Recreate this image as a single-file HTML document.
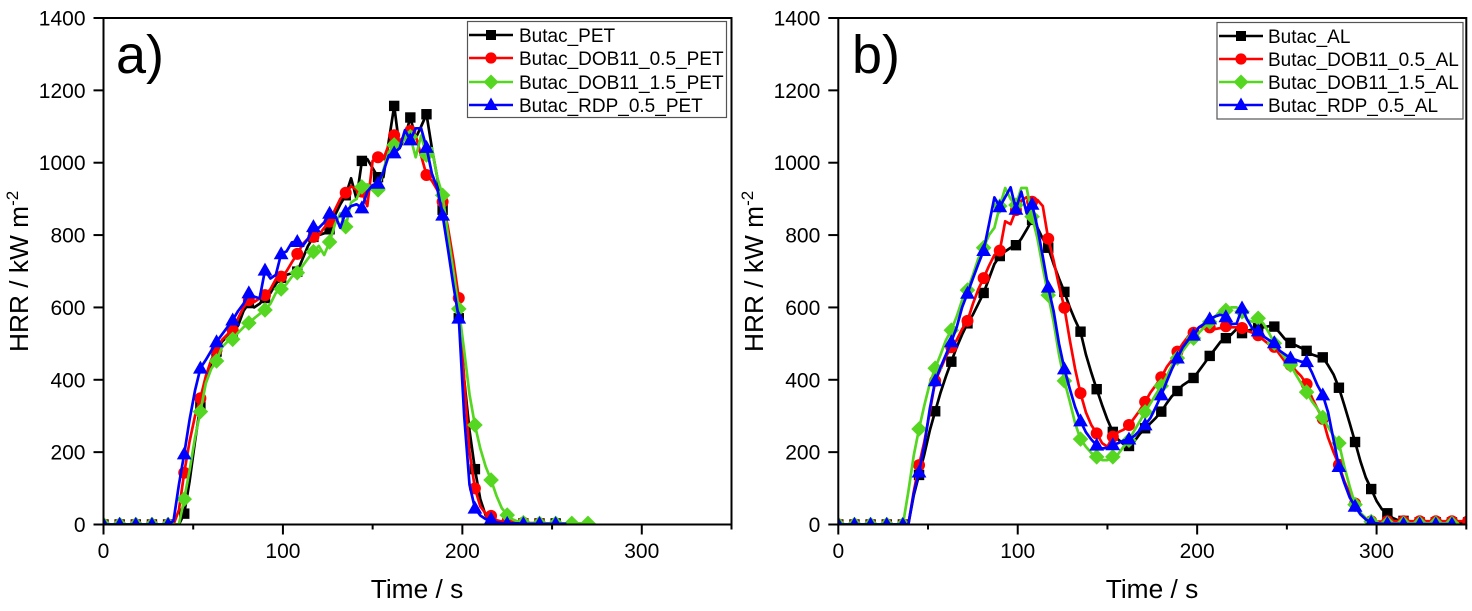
<!DOCTYPE html>
<html lang="en">
<head>
<meta charset="utf-8">
<title>HRR curves</title>
<style>
html,body{margin:0;padding:0;background:#fff;width:1472px;height:611px;overflow:hidden}
svg{display:block;filter:blur(0.35px)}
text{font-family:"Liberation Sans",Arial,sans-serif;fill:#000}
.tick{font-size:21px}
.title{font-size:26.3px}
.panel{font-size:54px}
.leg{font-size:19px}
</style>
</head>
<body>
<svg id="figure" width="1472" height="611" viewBox="0 0 1472 611" xmlns="http://www.w3.org/2000/svg">
  <defs>
    <clipPath id="clip-a"><rect x="103.5" y="18" width="627.5" height="506.5"/></clipPath>
    <clipPath id="clip-b"><rect x="838.3" y="18" width="628" height="506.5"/></clipPath>
  </defs>
  <g id="panel-a"></g>
  <g id="panel-b"></g>

  <text class="panel" x="116" y="73">a)</text>
  <text class="title" x="417" y="598" text-anchor="middle">Time / s</text>
  <text class="title" transform="translate(28,352) rotate(-90)">HRR / kW m<tspan font-size="17" dy="-10">-2</tspan></text>

  <text class="panel" x="852" y="73">b)</text>
  <text class="title" x="1152" y="598" text-anchor="middle">Time / s</text>
  <text class="title" transform="translate(763,352) rotate(-90)">HRR / kW m<tspan font-size="17" dy="-10">-2</tspan></text>

  <g>
    <rect x="467.5" y="21.5" width="259" height="96" fill="#fff" stroke="#555" stroke-width="1.2"/>
    <g>
      <line x1="469" x2="513" y1="35" y2="35" stroke="#000" stroke-width="2.5"/>
      <rect x="486" y="30" width="10" height="10" fill="#000"/>
      <text class="leg" x="519" y="42">Butac_PET</text>
    </g>
    <g>
      <line x1="469" x2="513" y1="58" y2="58" stroke="#ff0000" stroke-width="2.5"/>
      <circle cx="491" cy="58" r="5.6" fill="#ff0000"/>
      <text class="leg" x="519" y="65">Butac_DOB11_0.5_PET</text>
    </g>
    <g>
      <line x1="469" x2="513" y1="82" y2="82" stroke="#55d620" stroke-width="2.5"/>
      <polygon points="491,74.5 498.5,82 491,89.5 483.5,82" fill="#55d620"/>
      <text class="leg" x="519" y="89">Butac_DOB11_1.5_PET</text>
    </g>
    <g>
      <line x1="469" x2="513" y1="105" y2="105" stroke="#0000ff" stroke-width="2.5"/>
      <polygon points="491,97.5 498,110 484,110" fill="#0000ff"/>
      <text class="leg" x="519" y="112">Butac_RDP_0.5_PET</text>
    </g>
  </g>

  <g>
    <rect x="1217" y="22.5" width="246" height="96.5" fill="#fff" stroke="#555" stroke-width="1.2"/>
    <g>
      <line x1="1219" x2="1263" y1="36" y2="36" stroke="#000" stroke-width="2.5"/>
      <rect x="1236" y="31" width="10" height="10" fill="#000"/>
      <text class="leg" x="1268" y="43">Butac_AL</text>
    </g>
    <g>
      <line x1="1219" x2="1263" y1="59" y2="59" stroke="#ff0000" stroke-width="2.5"/>
      <circle cx="1241" cy="59" r="5.6" fill="#ff0000"/>
      <text class="leg" x="1268" y="66">Butac_DOB11_0.5_AL</text>
    </g>
    <g>
      <line x1="1219" x2="1263" y1="82" y2="82" stroke="#55d620" stroke-width="2.5"/>
      <polygon points="1241,74.5 1248.5,82 1241,89.5 1233.5,82" fill="#55d620"/>
      <text class="leg" x="1268" y="89">Butac_DOB11_1.5_AL</text>
    </g>
    <g>
      <line x1="1219" x2="1263" y1="105" y2="105" stroke="#0000ff" stroke-width="2.5"/>
      <polygon points="1241,97.5 1248,110 1234,110" fill="#0000ff"/>
      <text class="leg" x="1268" y="112">Butac_RDP_0.5_AL</text>
    </g>
  </g>
</svg>

<script>
// Values sampled every 3 s from t = 0; each row below holds 30 s of samples.
const sampleStepSeconds = 3;
const samplesPerMarker = 3;

const yTickValues = [0, 200, 400, 600, 800, 1000, 1200, 1400];
const xMajorTickValues = [0, 100, 200, 300];
const xMinorTickValues = [50, 150, 250, 350];

const butacPet = [
  0,0,0,0,0,0,0,0,0,0,
  0,0,0,0,0,30,120,230,330,400,
  445,478,505,520,530,550,590,612,600,610,
  626,640,665,682,690,695,699,735,770,795,
  800,805,816,855,885,910,957,900,1005,1010,
  985,960,960,1060,1157,1040,1070,1125,1068,1100,
  1134,1040,960,870,790,690,570,400,260,153,
  70,25,10,6,4,3,3,3,3,3,
  3,3,3,3,3
];
const butacDob05Pet = [
  0,0,0,0,0,0,0,0,0,0,
  0,0,0,0,40,143,230,300,349,410,
  455,482,510,525,537,570,600,620,615,625,
  634,650,678,685,700,725,748,775,790,795,
  800,820,837,870,900,917,935,925,920,880,
  1005,1015,1010,1050,1076,1060,1075,1088,1075,1020,
  966,950,925,892,820,730,626,400,200,100,
  50,30,24,12,8,7,6,5,5,4,
  4,3,3,3
];
const butacDob15Pet = [
  0,0,0,0,0,0,0,0,0,0,
  0,0,0,0,0,70,150,240,312,390,
  430,452,490,505,512,530,545,557,570,582,
  593,610,640,651,665,685,696,715,735,754,
  770,745,781,830,860,823,890,900,933,940,
  930,925,980,1030,1049,1050,1065,1072,1015,1075,
  1021,1040,960,910,800,700,596,480,360,275,
  210,160,123,80,45,26,14,8,5,4,
  3,3,3,3,3,3,3,3,3,3,
  3
];
const butacRdpPet = [
  0,0,0,0,0,0,0,0,0,0,
  0,0,0,10,110,195,290,370,432,455,
  480,505,525,545,565,590,610,640,630,625,
  703,680,690,748,755,780,782,770,790,823,
  820,835,860,855,820,864,880,885,875,920,
  938,943,975,1020,1027,1040,1090,1063,1095,1095,
  1042,970,930,855,760,660,570,300,110,45,
  25,15,15,6,4,3,3,3,2,2,
  2,2,2,2,2,2,2
];

const butacAl = [
  0,0,0,0,0,0,0,0,0,0,
  0,0,0,0,80,137,195,260,313,365,
  410,450,490,525,556,580,610,640,680,720,
  742,755,765,772,790,815,842,820,790,765,
  720,680,643,600,565,533,470,420,374,330,
  290,256,235,222,217,230,250,266,280,295,
  312,335,355,369,385,395,405,425,445,466,
  485,505,515,525,540,529,535,540,543,545,
  548,547,530,512,502,495,488,480,470,465,
  462,440,415,378,330,280,228,175,130,98,
  65,42,31,18,12,10,8,7,6,6,
  6,6,6,6,6,6,6,6
];
const butacDob05Al = [
  0,0,0,0,0,0,0,0,0,0,
  0,0,0,0,90,164,230,310,397,430,
  465,490,510,540,563,610,650,681,715,745,
  757,838,830,869,895,905,892,897,880,790,
  730,660,599,510,430,363,310,275,252,225,
  215,243,255,262,275,295,315,339,365,385,
  407,435,455,478,500,520,530,545,548,545,
  540,543,548,545,545,543,535,530,523,510,
  498,491,470,450,441,425,410,388,350,320,
  292,240,200,165,120,85,58,32,16,9,
  8,8,9,9,9,9,9,9,9,9,
  9,9,9,9,9,9,9,9
];
const butacDob15Al = [
  0,0,0,0,0,0,0,0,0,0,
  0,0,0,90,190,264,330,390,432,470,
  510,537,575,620,648,690,735,765,800,820,
  880,930,900,883,930,930,851,790,710,634,
  560,470,397,340,280,236,215,198,187,178,
  178,187,195,215,233,260,285,311,335,360,
  383,410,440,460,480,500,515,530,545,560,
  575,590,592,600,600,588,565,560,570,555,
  530,501,480,460,441,415,390,366,340,320,
  296,270,245,225,160,105,55,32,18,8,
  4,3,3,3,3,3,3,3,3,3,
  3,3,3,3,3
];
const butacRdpAl = [
  0,0,0,0,0,0,0,0,0,0,
  0,0,0,0,85,145,220,320,397,435,
  470,505,545,600,639,680,720,757,830,904,
  878,905,932,871,920,860,885,820,740,656,
  590,500,430,375,325,286,255,235,219,210,
  212,220,225,232,236,245,260,275,295,325,
  358,395,430,460,490,510,523,545,555,568,
  575,580,574,554,555,598,565,540,535,520,
  510,502,480,470,460,455,450,450,420,385,
  358,310,235,160,115,75,50,28,14,6,
  3,2,2,2,2,1,1,1,1,1,
  1,1,1,1,1
];

const NS = 'http://www.w3.org/2000/svg';

function make(tag, parent) {
  const el = document.createElementNS(NS, tag);
  parent.appendChild(el);
  return el;
}

function drawMarker(shape, cx, cy, color, parent) {
  let el;
  if (shape === 'square') {
    el = make('rect', parent);
    el.setAttribute('x', cx - 5.2);
    el.setAttribute('y', cy - 5.2);
    el.setAttribute('width', 10.4);
    el.setAttribute('height', 10.4);
  } else if (shape === 'circle') {
    el = make('circle', parent);
    el.setAttribute('cx', cx);
    el.setAttribute('cy', cy);
    el.setAttribute('r', 6);
  } else if (shape === 'diamond') {
    el = make('polygon', parent);
    el.setAttribute('points', [cx, cy - 7.8, cx + 7.8, cy, cx, cy + 7.8, cx - 7.8, cy].join(' '));
  } else {
    el = make('polygon', parent);
    el.setAttribute('points', [cx, cy - 7.6, cx + 7.4, cy + 5.4, cx - 7.4, cy + 5.4].join(' '));
  }
  el.setAttribute('fill', color);
  
  
}

function drawSeries(series, xScale, yScale, parent) {
  const group = make('g', parent);
  
  
  const line = make('polyline', group);
  line.setAttribute('points', series.values.map(function (v, i) {
    return xScale(i * sampleStepSeconds).toFixed(1) + ',' + yScale(v).toFixed(1);
  }).join(' '));
  line.setAttribute('fill', 'none');
  line.setAttribute('stroke', series.color);
  line.setAttribute('stroke-width', '2.7');
  line.setAttribute('stroke-linejoin', 'round');
  
  
  series.values.forEach(function (v, i) {
    if (i % samplesPerMarker === 0) {
      drawMarker(series.shape, xScale(i * sampleStepSeconds), yScale(v), series.color, group);
    }
  });
}

function drawPanel(root, clipId, left, seriesList) {
  const right = left + 628;
  const top = 18;
  const bottom = 524.5;
  const xScale = function (t) { return left + t * (right - left) / 350; };
  const yScale = function (v) { return bottom - v * (bottom - top) / 1400; };

  const plot = make('g', root);
  plot.setAttribute('clip-path', 'url(#' + clipId + ')');
  
  
  seriesList.forEach(function (s) { drawSeries(s, xScale, yScale, plot); });

  const frame = make('rect', root);
  frame.setAttribute('x', left);
  frame.setAttribute('y', top);
  frame.setAttribute('width', right - left);
  frame.setAttribute('height', bottom - top);
  frame.setAttribute('fill', 'none');
  frame.setAttribute('stroke', '#000');
  frame.setAttribute('stroke-width', '2');
  
  

  yTickValues.forEach(function (v) {
    const tick = make('line', root);
    tick.setAttribute('x1', left - 10);
    tick.setAttribute('x2', left);
    tick.setAttribute('y1', yScale(v));
    tick.setAttribute('y2', yScale(v));
    tick.setAttribute('stroke', '#000');
    tick.setAttribute('stroke-width', '2');
    
    
    const label = make('text', root);
    label.setAttribute('class', 'tick');
    label.setAttribute('x', left - 18);
    label.setAttribute('y', yScale(v) + 7.5);
    label.setAttribute('text-anchor', 'end');
    
    
    label.textContent = v;
  });

  xMajorTickValues.forEach(function (v) {
    const tick = make('line', root);
    tick.setAttribute('x1', xScale(v));
    tick.setAttribute('x2', xScale(v));
    tick.setAttribute('y1', bottom);
    tick.setAttribute('y2', bottom + 10);
    tick.setAttribute('stroke', '#000');
    tick.setAttribute('stroke-width', '2');
    
    
    const label = make('text', root);
    label.setAttribute('class', 'tick');
    label.setAttribute('x', xScale(v));
    label.setAttribute('y', 558);
    label.setAttribute('text-anchor', 'middle');
    
    
    label.textContent = v;
  });

  xMinorTickValues.forEach(function (v) {
    const tick = make('line', root);
    tick.setAttribute('x1', xScale(v));
    tick.setAttribute('x2', xScale(v));
    tick.setAttribute('y1', bottom);
    tick.setAttribute('y2', bottom + 5);
    tick.setAttribute('stroke', '#000');
    tick.setAttribute('stroke-width', '2');
    
    
  });
}

drawPanel(document.getElementById('panel-a'), 'clip-a', 103.5, [
  { name: 'series-butac-pet', color: '#000000', shape: 'square', values: butacPet },
  { name: 'series-butac-dob11-0-5-pet', color: '#ff0000', shape: 'circle', values: butacDob05Pet },
  { name: 'series-butac-dob11-1-5-pet', color: '#55d620', shape: 'diamond', values: butacDob15Pet },
  { name: 'series-butac-rdp-0-5-pet', color: '#0000ff', shape: 'triangle', values: butacRdpPet }
]);
drawPanel(document.getElementById('panel-b'), 'clip-b', 838.3, [
  { name: 'series-butac-al', color: '#000000', shape: 'square', values: butacAl },
  { name: 'series-butac-dob11-0-5-al', color: '#ff0000', shape: 'circle', values: butacDob05Al },
  { name: 'series-butac-dob11-1-5-al', color: '#55d620', shape: 'diamond', values: butacDob15Al },
  { name: 'series-butac-rdp-0-5-al', color: '#0000ff', shape: 'triangle', values: butacRdpAl }
]);
</script>
</body>
</html>
